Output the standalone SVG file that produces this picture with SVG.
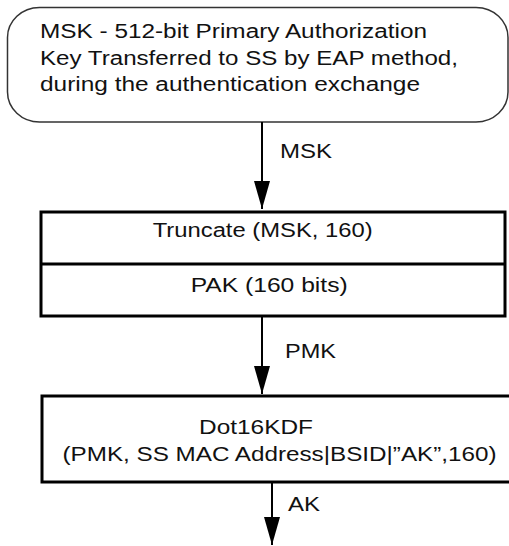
<svg xmlns="http://www.w3.org/2000/svg" width="509" height="546" viewBox="0 0 509 546">
<style>
  .t{font-family:"Liberation Sans",Arial,sans-serif;font-size:20px;fill:#111}
  .box{fill:#fff;stroke:#000;stroke-width:3}
  .term{fill:#fff;stroke:#333;stroke-width:1.5}
  .conn{stroke:#000;stroke-width:2;fill:none}
</style>
<defs>
  <marker id="ah" markerUnits="userSpaceOnUse" markerWidth="28" markerHeight="16" viewBox="0 0 28 16" refX="28" refY="8" orient="auto">
    <path d="M0,0 L28,8 L0,16 z" fill="#000"/>
  </marker>
</defs>
<rect width="509" height="546" fill="#fff"/>
<g id="msk-source">
  <rect class="term" x="7.5" y="7.5" width="500.5" height="114.5" rx="32" ry="30"/>
  <text class="t" x="40" y="38" textLength="387" lengthAdjust="spacingAndGlyphs">MSK - 512-bit Primary Authorization</text>
  <text class="t" x="40" y="64.5" textLength="418" lengthAdjust="spacingAndGlyphs">Key Transferred to SS by EAP method,</text>
  <text class="t" x="40" y="91" textLength="380" lengthAdjust="spacingAndGlyphs">during the authentication exchange</text>
</g>
<g id="truncate">
  <rect class="box" x="41" y="212" width="464" height="104"/>
  <line x1="41" y1="264" x2="505" y2="264" stroke="#000" stroke-width="3"/>
  <text class="t" x="152.7" y="237" textLength="220" lengthAdjust="spacingAndGlyphs">Truncate (MSK, 160)</text>
  <text class="t" x="190.7" y="291.5" textLength="157" lengthAdjust="spacingAndGlyphs">PAK (160 bits)</text>
</g>
<g id="dot16kdf">
  <rect class="box" x="42" y="396" width="470" height="86"/>
  <text class="t" x="199" y="434" textLength="114" lengthAdjust="spacingAndGlyphs">Dot16KDF</text>
  <text class="t" x="62.5" y="460.5" textLength="434" lengthAdjust="spacingAndGlyphs">(PMK, SS MAC Address|BSID|”AK”,160)</text>
</g>
<g id="connectors">
  <line class="conn" x1="262" y1="122" x2="262" y2="209" marker-end="url(#ah)"/>
  <text class="t" x="280" y="158" textLength="52" lengthAdjust="spacingAndGlyphs">MSK</text>
  <line class="conn" x1="262" y1="316" x2="262" y2="394" marker-end="url(#ah)"/>
  <text class="t" x="285" y="358" textLength="51" lengthAdjust="spacingAndGlyphs">PMK</text>
  <line class="conn" x1="272" y1="482" x2="272" y2="545" marker-end="url(#ah)"/>
  <text class="t" x="288" y="510.5" textLength="32" lengthAdjust="spacingAndGlyphs">AK</text>
</g>
</svg>
